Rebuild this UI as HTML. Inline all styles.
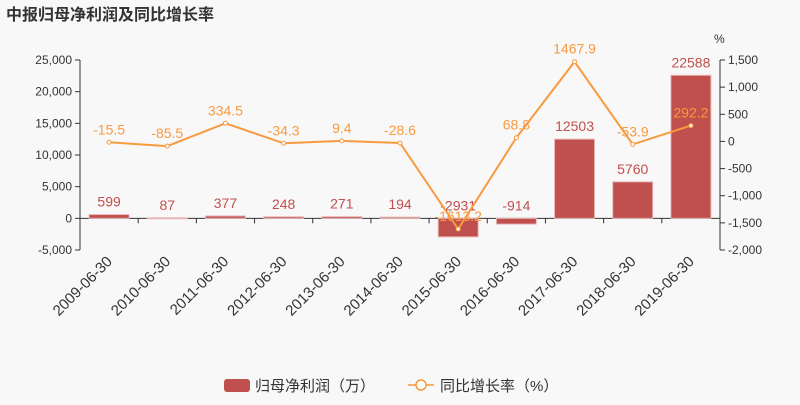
<!DOCTYPE html>
<html><head><meta charset="utf-8"><style>
body{margin:0;background:#f8f8f8;}
svg{font-family:"Liberation Sans","DejaVu Sans","Noto Sans CJK SC",sans-serif;}
</style></head><body>
<svg width="800" height="400" xmlns="http://www.w3.org/2000/svg">
<rect width="800" height="400" fill="#f8f8f8"/>
<text x="6" y="20" font-size="16" font-weight="bold" fill="#333" font-family="'Liberation Sans','Noto Sans CJK SC',sans-serif">中报归母净利润及同比增长率</text>
<g id="axes"></g>
<g id="bars"></g>
<g id="line"></g>
<g id="legend" font-family="'Liberation Sans','Noto Sans CJK SC',sans-serif">
<rect x="224" y="379" width="26" height="13" rx="3" fill="#c0504d"/>
<text x="255" y="391" font-size="15" fill="#333">归母净利润（万）</text>
<line x1="408" y1="385" x2="434" y2="385" stroke="#f89a3f" stroke-width="1.5"/>
<circle cx="421" cy="385" r="5" fill="#fff" stroke="#f89a3f" stroke-width="1.5"/>
<text x="440" y="391" font-size="15" fill="#333">同比增长率（%）</text>
</g>
</svg>
<script>
const categories=["2009-06-30","2010-06-30","2011-06-30","2012-06-30","2013-06-30","2014-06-30","2015-06-30","2016-06-30","2017-06-30","2018-06-30","2019-06-30"];
const profit=[599,87,377,248,271,194,-2931,-914,12503,5760,22588];
const growth=[-15.5,-85.5,334.5,-34.3,9.4,-28.6,-1613.2,68.8,1467.9,-53.9,292.2];
const leftTicks=[-5000,0,5000,10000,15000,20000,25000];
const rightTicks=[-2000,-1500,-1000,-500,0,500,1000,1500];
const NS="http://www.w3.org/2000/svg";
const X0=80,X1=720,YT=60,YB=250;
const yL=v=>YB-(v+5000)/30000*(YB-YT);
const yR=v=>YB-(v+2000)/3500*(YB-YT);
const bw=(X1-X0)/categories.length;
const xC=i=>X0+bw*(i+0.5);
function mk(t,a,p){const e=document.createElementNS(NS,t);for(const k in a)e.setAttribute(k,a[k]);p.appendChild(e);return e;}
const fmt=v=>v.toLocaleString('en-US');
const ax=document.getElementById('axes');
let e=mk('line',{x1:X0,y1:YT,x2:X0,y2:YB,stroke:'#333'},ax);


e=mk('line',{x1:X1,y1:YT,x2:X1,y2:YB,stroke:'#333'},ax);


e=mk('line',{x1:X0,y1:yL(0),x2:X1,y2:yL(0),stroke:'#333'},ax);


leftTicks.forEach(v=>{const y=yL(v);mk('line',{x1:X0-5,y1:y,x2:X0,y2:y,stroke:'#333'},ax);
const t=mk('text',{x:X0-8,y:y+4,'font-size':12,fill:'#333','text-anchor':'end'},ax);t.textContent=fmt(v);

});
rightTicks.forEach(v=>{const y=yR(v);mk('line',{x1:X1,y1:y,x2:X1+5,y2:y,stroke:'#333'},ax);
const t=mk('text',{x:X1+8,y:y+4,'font-size':12,fill:'#333'},ax);t.textContent=fmt(v);

});
e=mk('text',{x:714,y:43,'font-size':12,fill:'#333'},ax);e.textContent='%';


for(let i=1;i<categories.length;i++){mk('line',{x1:X0+bw*i,y1:yL(0),x2:X0+bw*i,y2:yL(0)+5,stroke:'#333'},ax);}
categories.forEach((c,i)=>{const x=xC(i),y=yL(0)+40;
const t=mk('text',{x:x+4,y:y+4,'font-size':15,fill:'#333','text-anchor':'end',transform:`rotate(-45 ${x+4} ${y+4})`},ax);
t.textContent=c;

});
const bg=document.getElementById('bars');
profit.forEach((v,i)=>{const y0=yL(0),y1=yL(v);
const r=mk('rect',{x:xC(i)-20,y:Math.min(y0,y1),width:40,height:Math.max(1,Math.abs(y1-y0)),fill:'#c0504d',stroke:'#e8b8b7','stroke-width':1},bg);


const t=mk('text',{x:xC(i),y:(v>=0?y1:y0)-8,'font-size':14,fill:'#c0504d','text-anchor':'middle'},bg);t.textContent=v;

});
const lg=document.getElementById('line');
const pl=mk('polyline',{points:growth.map((v,i)=>xC(i)+','+yR(v)).join(' '),fill:'none',stroke:'#f89a3f','stroke-width':2},lg);


growth.forEach((v,i)=>{const c=mk('circle',{cx:xC(i),cy:yR(v),r:2,fill:'#fff',stroke:'#f89a3f','stroke-width':1},lg);


const t=mk('text',{x:xC(i),y:yR(v)-8,'font-size':14,fill:'#f89a3f','text-anchor':'middle'},lg);t.textContent=v;

});
</script>
</body></html>
